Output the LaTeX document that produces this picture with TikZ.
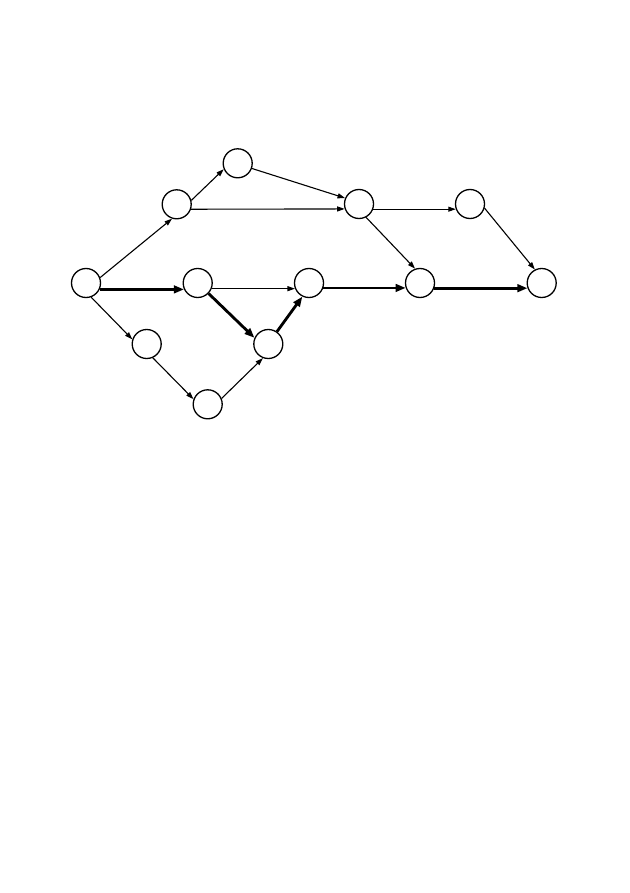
\documentclass[tikz,border=0pt]{standalone}
\usetikzlibrary{arrows.meta}
\begin{document}
\begin{tikzpicture}[x=1pt,y=-1pt,
  ev/.style={circle,draw,line width=1.3pt,minimum size=29pt,inner sep=0pt,fill=white},
  thin/.style={line width=1.1pt,-{Triangle[length=7.5pt,width=5pt]}},
  crit/.style={line width=2.8pt,-{Triangle[length=10pt,width=7.5pt]}}]
\useasboundingbox (0,0) rectangle (629,893);
\node[ev] (A) at (86,283) {};
\node[ev] (B) at (176.7,204.3) {};
\node[ev] (C) at (237.7,163.3) {};
\node[ev] (D) at (197.7,283) {};
\node[ev] (E) at (146.7,344) {};
\node[ev] (F) at (207.7,404.3) {};
\node[ev] (G) at (268.3,344) {};
\node[ev] (H) at (309,283) {};
\node[ev] (I) at (359,204) {};
\node[ev] (J) at (420,283) {};
\node[ev] (K) at (470,204) {};
\node[ev] (L) at (541.7,283) {};
\draw[thin] (A.21) -- (B.252);
\draw[crit] (A.-25) -- (D.205);
\draw[thin] (A.-70) -- (E.162);
\draw[thin] (B.15) -- (C.203);
\draw[thin] (B.-19) -- (I.199);
\draw[thin] (C.-20) -- (I.157);
\draw[thin] (D.-22) -- (H.202);
\draw[crit] (D.-44) -- (G.156);
\draw[thin] (E.-66) -- (F.160);
\draw[thin] (F.23) -- (G.249);
\draw[crit] (G.55) -- (H.244);
\draw[crit] (H.-19) -- (J.199);
\draw[thin] (I.-20) -- (K.200);
\draw[thin] (I.-62) -- (J.109);
\draw[crit] (J.-20) -- (L.200);
\draw[thin] (K.-16) -- (L.117);
\end{tikzpicture}
\end{document}
